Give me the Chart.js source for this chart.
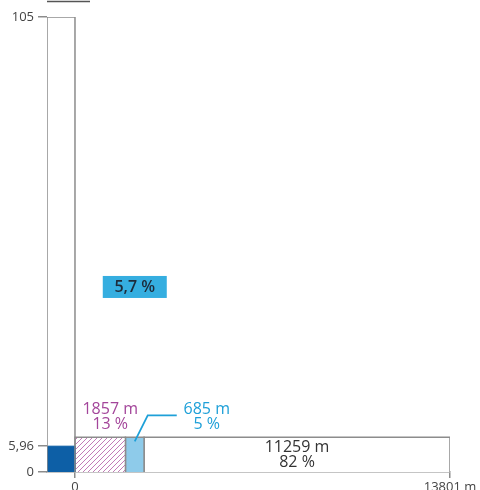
<!DOCTYPE html>
<html>
<head>
<meta charset="utf-8">
<script src="https://cdn.jsdelivr.net/npm/chart.js@4/dist/chart.umd.min.js"></script>
<style>
  html, body { margin: 0; padding: 0; background: #fff; }
  #wrap { width: 480px; height: 490px; }
</style>
</head>
<body>
<div id="wrap"><canvas id="chart" width="480" height="490"></canvas></div>
<script>
// Segment lengths along the route (m) and their shares
const segLabels = ['1857 m', '685 m', '11259 m'];
const segValues = [1857, 685, 11259];
const segShares = ['13 %', '5 %', '82 %'];
const segHeight = 8;
const totalLength = 13801;

// Left column: full height vs. filled part
const columnTotal = 105;
const columnValue = 5.96;
const columnShare = '5,7 %';
const columnSpan = 1030; // column drawn left of x = 0

const yTicks = [0, 5.96, 105];
const xTicks = [0, 13801];

const GRAY = '#8c8c8c';

function rect(x0, x1, h) {
  return [{ x: x0, y: 0 }, { x: x0, y: h }, { x: x1, y: h }, { x: x1, y: 0 }];
}

// pixel diagonal stripes "///" in light purple
function hatchPattern() {
  const n = 5;
  const c = document.createElement('canvas');
  c.width = n; c.height = n;
  const g = c.getContext('2d');
  g.fillStyle = '#ffffff';
  g.fillRect(0, 0, n, n);
  g.fillStyle = '#c27bb7';
  for (let i = 0; i < n; i++) g.fillRect(i, n - 1 - i, 1, 1);
  return g.createPattern(c, 'repeat');
}

const segFills = [hatchPattern(), '#8ecbea', '#ffffff'];
const labelColors = ['#a3459a', '#1ea0d8', '#333333'];

function lineSet(points, fill, border, width) {
  return {
    data: points,
    backgroundColor: fill,
    borderColor: border,
    borderWidth: width,
    fill: 'origin',
    pointRadius: 0,
    tension: 0
  };
}

// note: Chart.js paints the first dataset last (on top)
const datasets = [];
datasets.push(lineSet(rect(-columnSpan, 0, columnTotal), 'rgba(0,0,0,0)', GRAY, 1.5));
datasets.push(lineSet(rect(-columnSpan, 0, columnValue), '#0d5fa6', '#0d5fa6', 1));
let start = 0;
segValues.forEach((v, i) => {
  datasets.push(lineSet(rect(start, start + v, segHeight), segFills[i], GRAY, 1.5));
  start += v;
});

// Texts for the segments, the leader line and the share box
const labelPlugin = {
  id: 'labels',
  afterDatasetsDraw(chart) {
    const { ctx, scales: { x, y }, chartArea } = chart;
    ctx.save();
    ctx.textAlign = 'center';
    ctx.textBaseline = 'middle';
    ctx.font = '16px "Open Sans"';
    const top = y.getPixelForValue(segHeight);
    let s = 0;
    segValues.forEach((v, i) => {
      let cx = x.getPixelForValue(s + v / 2);
      let cy = top - 28;
      if (i === 0) cx += 10;
      if (i === 1) cx += 72;
      if (i === 2) cy = top + 10;
      ctx.fillStyle = labelColors[i];
      ctx.fillText(segLabels[i], cx, cy);
      ctx.fillText(segShares[i], cx, cy + 15);
      if (i === 1) {
        const bx = x.getPixelForValue(s + v / 2);
        ctx.strokeStyle = labelColors[i];
        ctx.lineWidth = 1.8;
        ctx.beginPath();
        ctx.moveTo(bx, top + 4);
        ctx.lineTo(bx + 13, top - 22);
        ctx.lineTo(bx + 42, top - 22);
        ctx.stroke();
      }
      s += v;
    });

    // share box of the column
    const bx = x.getPixelForValue(2200);
    const by = y.getPixelForValue(42.7);
    ctx.fillStyle = '#35aee0';
    ctx.fillRect(bx - 32, by - 11, 64, 22);
    ctx.fillStyle = '#1d2b3a';
    ctx.font = '600 16px "Open Sans"';
    ctx.fillText(columnShare, bx, by);

    // cut-off rule at the top
    ctx.strokeStyle = '#555';
    ctx.lineWidth = 1.5;
    ctx.beginPath();
    ctx.moveTo(chartArea.left, 1.5);
    ctx.lineTo(chartArea.left + 43, 1.5);
    ctx.stroke();
    ctx.restore();
  }
};

new Chart(document.getElementById('chart'), {
  type: 'line',
  data: { datasets },
  options: {
    responsive: false,
    animation: false,
    layout: { padding: { top: 17, right: 30, left: 0, bottom: 0 } },
    plugins: {
      legend: { display: false },
      tooltip: { enabled: false }
    },
    scales: {
      x: {
        type: 'linear',
        min: -columnSpan,
        max: totalLength,
        afterBuildTicks: (scale) => { scale.ticks = xTicks.map(v => ({ value: v })); },
        afterFit: (scale) => { scale.height = 18; },
        border: { display: true, color: GRAY, width: 1.5 },
        grid: { drawOnChartArea: false, drawTicks: true, tickLength: 6, color: GRAY, lineWidth: 1.5 },
        ticks: {
          padding: 1,
          maxRotation: 0,
          autoSkip: false,
          color: '#444',
          font: { family: 'Open Sans', size: 13 },
          callback: (v) => v === totalLength ? totalLength + ' m' : String(v)
        }
      },
      y: {
        min: 0,
        max: columnTotal,
        afterBuildTicks: (scale) => { scale.ticks = yTicks.map(v => ({ value: v })); },
        afterFit: (scale) => { scale.width = 47; },
        border: { display: false },
        grid: { drawOnChartArea: false, drawTicks: true, tickLength: 9, color: GRAY, lineWidth: 1.5 },
        ticks: {
          padding: 4,
          autoSkip: false,
          color: '#444',
          font: { family: 'Open Sans', size: 13 },
          callback: (v) => String(v).replace('.', ',')
        }
      }
    }
  },
  plugins: [labelPlugin]
});
</script>
</body>
</html>
